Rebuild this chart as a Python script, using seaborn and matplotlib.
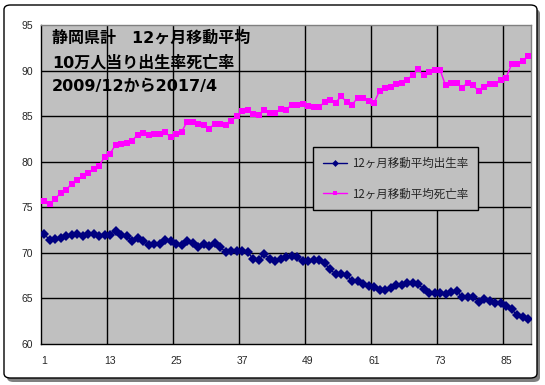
import numpy as np
import pandas as pd
import seaborn as sns
import matplotlib
matplotlib.use("Agg")
import matplotlib.pyplot as plt
from matplotlib.patches import FancyBboxPatch

# ---- data ----
title_lines = ["静岡県計　12ヶ月移動平均", "10万人当り出生率死亡率", "2009/12から2017/4"]
series_names = ["12ヶ月移動平均出生率", "12ヶ月移動平均死亡率"]
tick_labels = ["1", "13", "25", "37", "49", "61", "73", "85"]

births = [72.1, 71.43, 71.57, 71.68, 71.87, 71.98, 72.1, 71.87, 72.1, 72.06,
          71.87, 71.98, 71.98, 72.4, 71.98, 71.87, 71.3, 71.65, 71.36, 70.88,
          71.03, 71.03, 71.43, 71.3, 71.0, 70.88, 71.36, 71.14, 70.66, 71.0,
          70.8, 71.14, 70.63, 70.15, 70.26, 70.26, 70.26, 70.1, 69.38, 69.27,
          69.86, 69.38, 69.13, 69.38, 69.5, 69.64, 69.53, 69.13, 69.13, 69.24,
          69.24, 68.87, 68.2, 67.67, 67.67, 67.56, 66.93, 66.93, 66.57, 66.38,
          66.24, 65.94, 65.94, 66.13, 66.49, 66.49, 66.68, 66.68, 66.57, 66.05,
          65.58, 65.65, 65.65, 65.47, 65.69, 65.8, 65.21, 65.21, 65.14, 64.6,
          64.92, 64.74, 64.5, 64.5, 64.19, 63.83, 63.17, 63.01, 62.73]

deaths = [75.75, 75.4, 75.9, 76.6, 76.9, 77.6, 78.0, 78.4, 78.8, 79.2,
          79.6, 80.5, 80.9, 81.9, 82.0, 82.1, 82.3, 83.0, 83.2, 82.9,
          83.1, 83.1, 83.3, 82.7, 83.1, 83.3, 84.4, 84.4, 84.2, 84.0,
          83.6, 84.2, 84.2, 84.1, 84.5, 85.0, 85.6, 85.7, 85.3, 85.2,
          85.7, 85.4, 85.4, 85.8, 85.7, 86.3, 86.3, 86.4, 86.1, 86.0,
          86.0, 86.6, 86.8, 86.5, 87.2, 86.6, 86.25, 87.05, 87.05, 86.7,
          86.5, 87.8, 88.15, 88.26, 88.5, 88.7, 89.0, 89.55, 90.2, 89.5,
          89.9, 90.1, 90.1, 88.4, 88.7, 88.7, 88.15, 88.7, 88.4, 87.8,
          88.2, 88.5, 88.5, 89.0, 89.25, 90.7, 90.8, 91.1, 91.65]

y_ticks = [60, 65, 70, 75, 80, 85, 90, 95]

# ---- figure ----
sns.set_style("white")
plt.rcParams['font.family'] = ['Liberation Sans', 'Noto Sans CJK JP', 'DejaVu Sans']

fig = plt.figure(figsize=(5.45, 3.85), dpi=100)
fig.patch.set_facecolor("white")

# outer frame with shadow
shadow = FancyBboxPatch((7 / 545, 3 / 385), 533 / 545, 373 / 385,
                        boxstyle="round,pad=0,rounding_size=0.012",
                        transform=fig.transFigure, facecolor="#808080",
                        edgecolor="none", zorder=-2)
frame = FancyBboxPatch((4 / 545, 7 / 385), 533 / 545, 373 / 385,
                       boxstyle="round,pad=0,rounding_size=0.012",
                       transform=fig.transFigure, facecolor="white",
                       edgecolor="black", linewidth=1, zorder=-1)
fig.patches.extend([shadow, frame])

ax = fig.add_axes([41.3 / 545, 1 - 344 / 385, 489.5 / 545, 318.7 / 385])
ax.set_zorder(2)
ax.set_facecolor("#C0C0C0")

n = len(births)
df = pd.DataFrame({
    "x": list(range(n)) * 2,
    "value": births + deaths,
    "series": [series_names[0]] * n + [series_names[1]] * n,
})

sns.lineplot(data=df[df.series == series_names[0]], x="x", y="value", ax=ax,
             color="#000080", marker="D", markersize=4.8, markeredgewidth=0,
             linewidth=1, label=series_names[0], zorder=3)
sns.lineplot(data=df[df.series == series_names[1]], x="x", y="value", ax=ax,
             color="#FF00FF", marker="s", markersize=4.8, markeredgewidth=0,
             linewidth=1, label=series_names[1], zorder=3)

ax.set_xlim(-0.5, n - 0.5)
ax.set_ylim(60, 95)
ax.set_yticks(y_ticks)
ax.set_yticklabels([str(v) for v in y_ticks], fontsize=7.5)
ax.set_xticks([12 * i for i in range(len(tick_labels))])
ax.set_xticklabels(tick_labels, fontsize=7.5)
ax.tick_params(axis="x", which="both", length=0, pad=9)
ax.tick_params(axis="y", length=3, pad=3, color="black")
ax.set_xlabel("")
ax.set_ylabel("")

ax.grid(False)
for yv in y_ticks[1:-1]:
    ax.axhline(yv, color="black", linewidth=1, zorder=1)
for i in range(1, len(tick_labels)):
    ax.axvline(12 * i - 0.5, color="black", linewidth=1, zorder=1)

for side in ["top", "right"]:
    ax.spines[side].set_color("#808080")
    ax.spines[side].set_linewidth(1)
for side in ["left", "bottom"]:
    ax.spines[side].set_color("black")
    ax.spines[side].set_linewidth(1)

leg = ax.legend(loc="upper left", bbox_to_anchor=(0.555, 0.617),
                prop={"family": ["Noto Sans CJK JP"], "size": 8.3},
                frameon=True, fancybox=False, framealpha=1,
                facecolor="#C0C0C0", edgecolor="black",
                handlelength=2.1, labelspacing=1.5, borderpad=0.85,
                handletextpad=0.4, borderaxespad=0)
leg.get_frame().set_linewidth(1)
for h in leg.legend_handles:
    h.set_markersize(3.5)

ys = [38, 62.5, 86.5]
for t, yp in zip(title_lines, ys):
    ax.text(52 / 545, 1 - yp / 385, t, fontsize=11.5, fontweight="bold",
            family=["DejaVu Sans", "Noto Sans CJK JP"], va="center", ha="left",
            color="black", zorder=5, transform=fig.transFigure)

fig.savefig("out.png", dpi=100)
